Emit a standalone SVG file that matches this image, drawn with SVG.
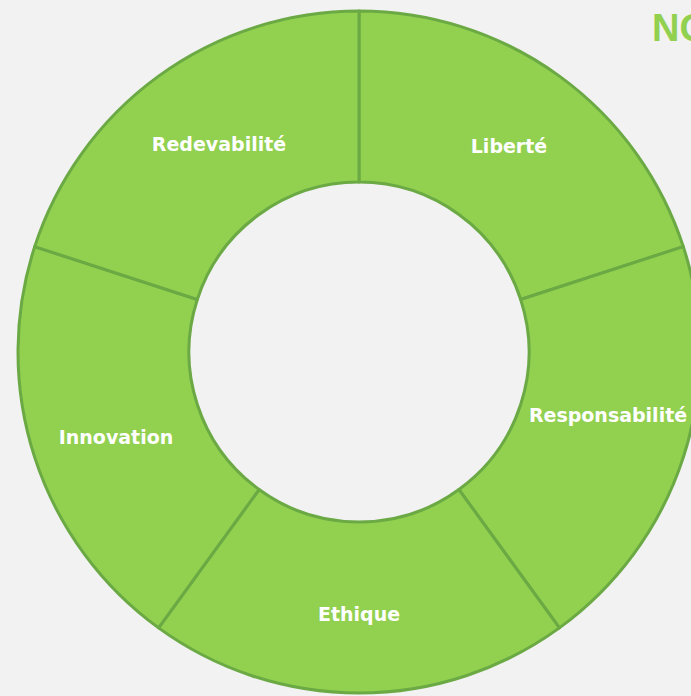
<svg xmlns="http://www.w3.org/2000/svg" width="691" height="696" viewBox="0 0 691 696">
<style>
.seg{fill:#92d050;stroke:#6aa943;stroke-width:3;stroke-linejoin:round}
.lbl{font-family:"DejaVu Sans","Liberation Sans",sans-serif;font-weight:bold;font-size:19px;fill:#ffffff;text-anchor:middle}
.title{font-family:"Liberation Sans",Arial,sans-serif;font-weight:bold;font-size:38px;fill:#92d050}
</style>
<rect width="691" height="696" fill="#f2f2f2"/>
<g id="node-liberte">
<path class="seg" d="M359,11 A341,341 0 0 1 683.31,246.62 L520.68,299.47 A170,170 0 0 0 359,182 Z"/>
<text class="lbl" x="509" y="153">Liberté</text>
</g>
<g id="node-responsabilite">
<path class="seg" d="M683.31,246.62 A341,341 0 0 1 559.44,627.87 L458.92,489.53 A170,170 0 0 0 520.68,299.47 Z"/>
<text class="lbl" x="608" y="422">Responsabilité</text>
</g>
<g id="node-ethique">
<path class="seg" d="M559.44,627.87 A341,341 0 0 1 158.56,627.87 L259.08,489.53 A170,170 0 0 0 458.92,489.53 Z"/>
<text class="lbl" x="359" y="621">Ethique</text>
</g>
<g id="node-innovation">
<path class="seg" d="M158.56,627.87 A341,341 0 0 1 34.69,246.62 L197.32,299.47 A170,170 0 0 0 259.08,489.53 Z"/>
<text class="lbl" x="116" y="444">Innovation</text>
</g>
<g id="node-redevabilite">
<path class="seg" d="M34.69,246.62 A341,341 0 0 1 359,11 L359,182 A170,170 0 0 0 197.32,299.47 Z"/>
<text class="lbl" x="219" y="151">Redevabilité</text>
</g>
<g id="connectors"></g>
<g id="title">
<text class="title" x="652" y="41">NO</text>
</g>
</svg>
